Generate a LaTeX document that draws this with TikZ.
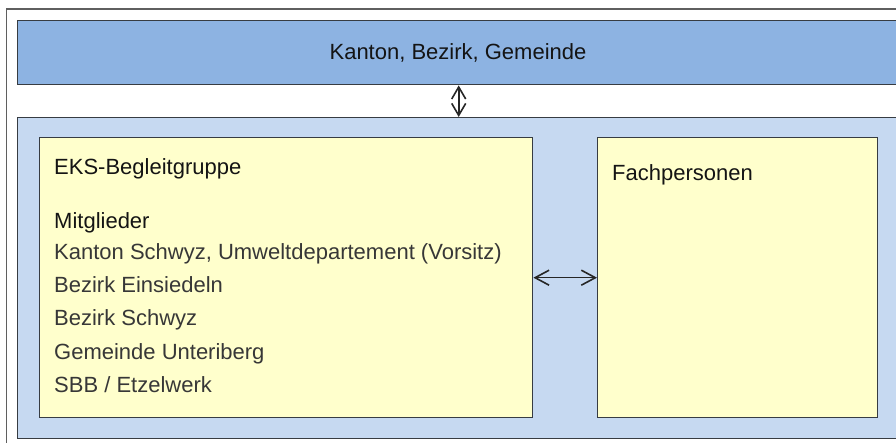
\documentclass[tikz,border=0pt]{standalone}
\usepackage{fontspec}
\setmainfont{Liberation Sans}
\usetikzlibrary{arrows.meta}
\definecolor{barblue}{RGB}{141,179,226}
\definecolor{panelblue}{RGB}{198,217,241}
\definecolor{boxyellow}{RGB}{255,255,204}
\definecolor{edge}{RGB}{55,60,66}
\definecolor{frame}{RGB}{95,95,95}
\definecolor{listgray}{RGB}{55,55,55}
\begin{document}
\begin{tikzpicture}[x=1pt,y=-1pt,
  txt/.style={font=\fontsize{22}{26}\selectfont, inner sep=0pt, anchor=base west},
  title/.style={txt, text=black!92},
  member/.style={txt, text=listgray},
  boxshape/.style={draw=edge, line width=1.4pt, inner sep=0pt, anchor=north west},
  dblarrow/.style={draw=black!85, line width=1.6pt}
]
\useasboundingbox (0,0) rectangle (896,443);
\clip (0,0) rectangle (896,443);
\fill[white] (0,0) rectangle (896,443);
\draw[frame, line width=1.8pt] (6.5,9) rectangle (920,460);
\node[boxshape, fill=barblue, minimum width=882, minimum height=64] (top) at (17,20) {};
\node[title, anchor=base] (toptext) at (458,60) {Kanton, Bezirk, Gemeinde};
\node[boxshape, fill=panelblue, minimum width=882, minimum height=321] (panel) at (17,117) {};
\node[boxshape, fill=boxyellow, minimum width=493, minimum height=280] (eks) at (39,137) {};
\node[boxshape, fill=boxyellow, minimum width=280, minimum height=280] (fach) at (597,137) {};
\node[title] (eksT) at (54,175) {EKS-Begleitgruppe};
\node[title] (mitgl) at (54,229) {Mitglieder};
\node[member] (m1) at (54,260) {Kanton Schwyz, Umweltdepartement (Vorsitz)};
\node[member] (m2) at (54,293) {Bezirk Einsiedeln};
\node[member] (m3) at (54,326) {Bezirk Schwyz};
\node[member] (m4) at (54,359) {Gemeinde Unteriberg};
\node[member] (m5) at (54,392) {SBB / Etzelwerk};
\node[title] (fachT) at (612,181) {Fachpersonen};
\draw[dblarrow, {Straight Barb[length=12pt,width=14pt]}-{Straight Barb[length=12pt,width=14pt]}] (top.south) -- (panel.north);
\draw[dblarrow, {Straight Barb[length=14pt,width=15pt]}-{Straight Barb[length=14pt,width=15pt]}] (eks.east) -- (fach.west);
\end{tikzpicture}
\end{document}
